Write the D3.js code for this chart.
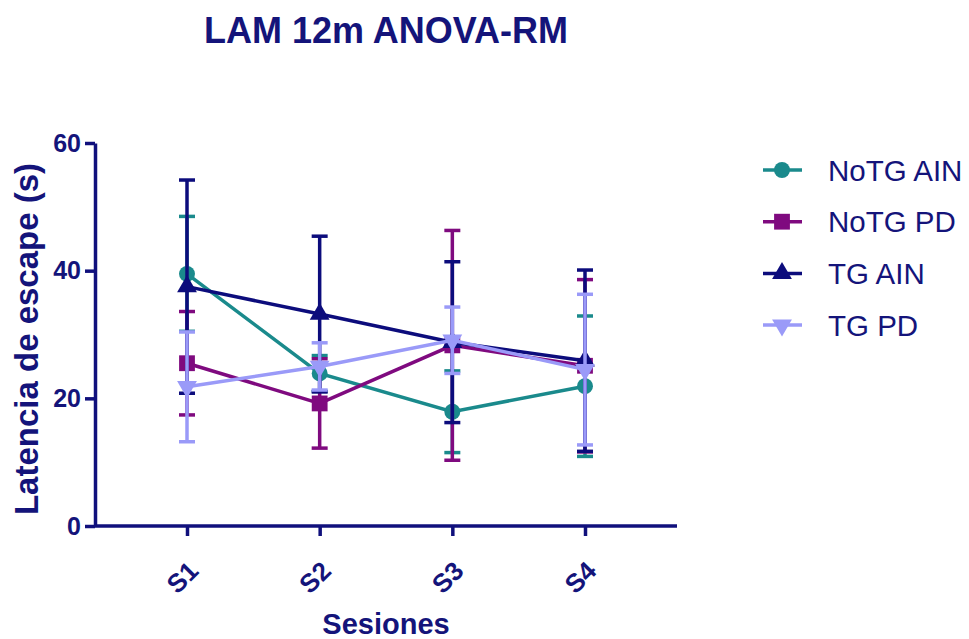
<html>
<head>
  <meta charset="utf-8" />
  <script src="https://cdnjs.cloudflare.com/ajax/libs/d3/7.8.5/d3.min.js"></script>
  <style>
    body { margin: 0; background: #fff; }
    text { font-family: "Liberation Sans", Arial, sans-serif; fill: #14147a; }
  </style>
</head>
<body>
  <svg width="969" height="639"></svg>
  <script>
    // sessions and group means / error
    var sessions = ["S1", "S2", "S3", "S4"]
    var noTgAinMean = [39.5, 23.9, 17.9, 21.9]
    var noTgAinErr  = [9.0, 2.8, 6.4, 11.0]
    var noTgPdMean  = [25.5, 19.2, 28.3, 25.1]
    var noTgPdErr   = [8.1, 7.0, 18.0, 13.5]
    var tgAinMean   = [37.5, 33.2, 28.8, 25.9]
    var tgAinErr    = [16.7, 12.2, 12.6, 14.2]
    var tgPdMean    = [21.8, 25.0, 29.1, 24.5]
    var tgPdErr     = [8.6, 3.7, 5.2, 11.8]
    var yTicks = [0, 20, 40, 60]

    var series = [
      {name: "NoTG AIN", mean: noTgAinMean, err: noTgAinErr, color: "#1a8a8c", symbol: d3.symbolCircle, size: 200, rot: 0},
      {name: "NoTG PD",  mean: noTgPdMean,  err: noTgPdErr,  color: "#7f0a7f", symbol: d3.symbolSquare, size: 250, rot: 0},
      {name: "TG AIN",   mean: tgAinMean,   err: tgAinErr,   color: "#0c0c7c", symbol: d3.symbolTriangle, size: 170, rot: 0},
      {name: "TG PD",    mean: tgPdMean,    err: tgPdErr,    color: "#9a9af8", symbol: d3.symbolTriangle, size: 170, rot: 180}
    ]

    var axisColor = "#10107c"
    var svg = d3.select("svg")

    var x = d3.scalePoint().domain(sessions).range([187, 585]).padding(0)
    var y = d3.scaleLinear().domain([0, 60]).range([526, 143])

    // title
    svg.append("text")
      .attr("x", 386).attr("y", 43)
      .attr("text-anchor", "middle")
      .style("font-size", "36px").style("font-weight", "bold")
      .text("LAM 12m ANOVA-RM")

    // series: error bars, line, symbols
    series.forEach(function(s) {
      var g = svg.append("g")
      var pts = sessions.map((c, i) => ({c: c, m: s.mean[i], e: s.err[i]}))

      g.selectAll(".bar").data(pts).enter().append("line")
        .attr("x1", d => x(d.c)).attr("x2", d => x(d.c))
        .attr("y1", d => y(d.m + d.e)).attr("y2", d => y(d.m - d.e))
        .style("stroke", s.color).style("stroke-width", 3.5)
      g.selectAll(".capT").data(pts).enter().append("line")
        .attr("x1", d => x(d.c) - 8).attr("x2", d => x(d.c) + 8)
        .attr("y1", d => y(d.m + d.e)).attr("y2", d => y(d.m + d.e))
        .style("stroke", s.color).style("stroke-width", 3.5)
      g.selectAll(".capB").data(pts).enter().append("line")
        .attr("x1", d => x(d.c) - 8).attr("x2", d => x(d.c) + 8)
        .attr("y1", d => y(d.m - d.e)).attr("y2", d => y(d.m - d.e))
        .style("stroke", s.color).style("stroke-width", 3.5)

      g.append("path")
        .datum(pts)
        .attr("d", d3.line().x(d => x(d.c)).y(d => y(d.m)))
        .style("fill", "none").style("stroke", s.color).style("stroke-width", 3.5)

      g.selectAll(".pt").data(pts).enter().append("path")
        .attr("transform", d => `translate(${x(d.c)},${y(d.m)}) rotate(${s.rot})`)
        .attr("d", d3.symbol().type(s.symbol).size(s.size))
        .style("fill", s.color)
    })

    // y axis
    var yAxis = svg.append("g")
      .attr("transform", "translate(95,0)")
      .call(d3.axisLeft(y).tickValues(yTicks).tickSize(10).tickPadding(4).tickSizeOuter(0))
    yAxis.select(".domain").style("stroke", axisColor).style("stroke-width", 3.5)
    yAxis.selectAll(".tick line").style("stroke", axisColor).style("stroke-width", 3.5)
    yAxis.selectAll(".tick text")
      .style("font-size", "25px").style("font-weight", "bold")
      .style("font-family", "Liberation Sans, Arial, sans-serif").style("fill", "#14147a")

    // x axis
    svg.append("line")
      .attr("x1", 95).attr("x2", 677).attr("y1", 526).attr("y2", 526)
      .style("stroke", axisColor).style("stroke-width", 3.5)
    var xAxis = svg.append("g")
      .attr("transform", "translate(0,526)")
      .call(d3.axisBottom(x).tickSize(10).tickSizeOuter(0))
    xAxis.select(".domain").remove()
    xAxis.selectAll(".tick line").style("stroke", axisColor).style("stroke-width", 3.5)
    xAxis.selectAll(".tick text")
      .attr("text-anchor", "end")
      .attr("transform", "translate(6,40) rotate(-45)")
      .attr("dy", "0.35em").attr("x", 0).attr("y", 0)
      .style("font-size", "26px").style("font-weight", "bold")
      .style("font-family", "Liberation Sans, Arial, sans-serif").style("fill", "#14147a")

    // axis titles
    svg.append("text")
      .attr("transform", "translate(38,339) rotate(-90)")
      .attr("text-anchor", "middle")
      .style("font-size", "33px").style("font-weight", "bold")
      .text("Latencia de escape (s)")
    svg.append("text")
      .attr("x", 386).attr("y", 634)
      .attr("text-anchor", "middle")
      .style("font-size", "29px").style("font-weight", "bold")
      .text("Sesiones")

    // legend
    var legend = svg.append("g").selectAll("g").data(series).enter().append("g")
      .attr("transform", (d, i) => `translate(0,${170 + i * 51.7})`)
    legend.append("line")
      .attr("x1", 763).attr("x2", 802)
      .style("stroke", d => d.color).style("stroke-width", 3.5)
    legend.append("path")
      .attr("transform", d => `translate(782,0) rotate(${d.rot})`)
      .attr("d", d => d3.symbol().type(d.symbol).size(d.size)())
      .style("fill", d => d.color)
    legend.append("text")
      .attr("x", 828).attr("dy", "0.36em")
      .style("font-size", "29.5px")
      .text(d => d.name)
  </script>
</body>
</html>
